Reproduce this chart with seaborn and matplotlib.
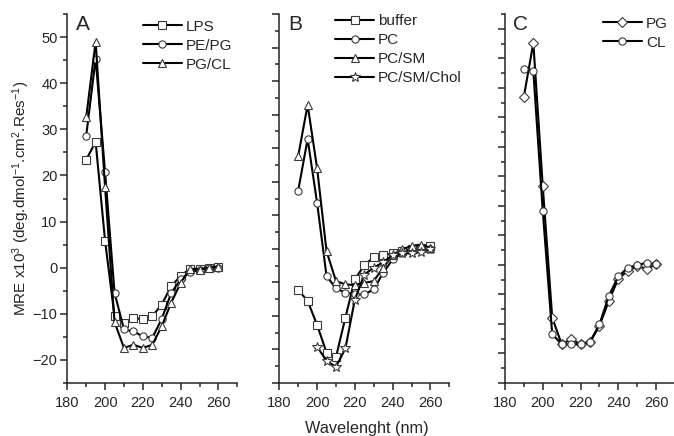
import numpy as np
import pandas as pd
import matplotlib
matplotlib.use("Agg")
import matplotlib.pyplot as plt
import seaborn as sns
from matplotlib.ticker import MultipleLocator, FixedLocator, NullFormatter

# ---------------- data ----------------
wl = [190, 195, 200, 205, 210, 215, 220, 225, 230, 235, 240, 245, 250, 255, 260]
wl_chol = [200, 205, 210, 215, 220, 225, 230, 235, 240, 245, 250, 255, 260]

# Panel A
lps = [23.4, 27.3, 5.8, -10.5, -12.0, -10.9, -11.2, -10.5, -8.0, -4.0, -1.8, -0.2, -0.2, 0.0, 0.1]
pe_pg = [28.6, 45.3, 20.7, -5.4, -13.4, -13.8, -14.9, -15.2, -11.1, -5.5, -2.5, -1.0, -0.5, 0.0, 0.0]
pg_cl = [32.6, 49.0, 17.4, -11.8, -17.4, -16.7, -17.4, -16.7, -12.7, -7.6, -3.3, -0.2, -0.4, 0.0, 0.2]

# Panel B
buffer = [-4.8, -7.2, -12.4, -18.4, -19.4, -10.8, -2.5, 0.5, 2.3, 2.7, 3.1, 3.6, 4.0, 4.3, 4.8]
pc = [16.7, 27.9, 14.1, -1.8, -4.5, -5.4, -5.8, -5.8, -4.7, -1.1, 1.8, 3.1, 3.6, 4.0, 4.1]
pc_sm = [24.2, 35.3, 21.6, 3.6, -2.9, -3.6, -3.8, -3.3, -2.9, 0.0, 2.7, 4.0, 4.7, 5.0, 4.3]
pc_sm_chol = [-17.1, -20.2, -21.5, -17.5, -6.9, -1.5, 0.0, 1.2, 2.7, 3.1, 3.1, 3.4, 4.0]

# Panel C
pg = [37.1, 48.7, 17.7, -10.8, -16.6, -15.5, -16.6, -16.2, -12.6, -7.2, -2.4, -0.7, 0.3, -0.2, 0.7]
cl = [43.1, 42.6, 12.3, -14.4, -16.6, -16.6, -16.6, -16.1, -12.3, -6.1, -1.9, 0.0, 0.5, 1.1, 0.7]

panels = [
    ("A", [("LPS", wl, lps, "s"), ("PE/PG", wl, pe_pg, "o"), ("PG/CL", wl, pg_cl, "^")]),
    ("B", [("buffer", wl, buffer, "s"), ("PC", wl, pc, "o"), ("PC/SM", wl, pc_sm, "^"),
           ("PC/SM/Chol", wl_chol, pc_sm_chol, "*")]),
    ("C", [("PG", wl, pg, "D"), ("CL", wl, cl, "o")]),
]

# ---------------- style ----------------
sns.set_style("ticks")
plt.rcParams["font.family"] = ["Liberation Sans", "DejaVu Sans"]
plt.rcParams["mathtext.fontset"] = "custom"
plt.rcParams["mathtext.rm"] = "Liberation Sans"
plt.rcParams["mathtext.it"] = "Liberation Sans:italic"
plt.rcParams["axes.linewidth"] = 1.1

W, H = 674, 436
fig = plt.figure(figsize=(W / 100, H / 100), dpi=100)

ax_specs = [
    (67.3, 170, (180, 270)),
    (279.3, 170, (180, 270)),
    (505, 169, (180, 269.5)),
]
bottom_px, top_px = 383, 14

legend_pos = [(0.445, 0.985), (0.328, 0.999), (0.58, 0.993)]
yticks_n = [None, 23, 26]
axes = []
for i, ((lab, series), (left, width, xl)) in enumerate(zip(panels, ax_specs)):
    ax = fig.add_axes([left / W, (H - bottom_px) / H, width / W, (bottom_px - top_px) / H])
    axes.append(ax)
    for name, x, y, mk in series:
        ms = 7.0 if mk == "*" else (4.8 if mk == "D" else 5.2)
        df = pd.DataFrame({"wl": x, "v": y})
        sns.lineplot(data=df, x="wl", y="v", ax=ax, color="black", linewidth=1.5,
                     marker=mk, markersize=ms, markerfacecolor="white",
                     markeredgecolor="#3a3a3a", markeredgewidth=0.8, label=name)
    ax.set_xlim(*xl)
    ax.set_ylim(-25, 55)
    ax.xaxis.set_major_locator(MultipleLocator(20))
    ax.xaxis.set_minor_locator(MultipleLocator(10))
    if i == 0:
        ax.yaxis.set_major_locator(MultipleLocator(10))
        ax.yaxis.set_minor_locator(MultipleLocator(5))
    else:
        t = np.linspace(-25, 55, yticks_n[i])
        ax.yaxis.set_major_locator(FixedLocator(t[::2]))
        ax.yaxis.set_minor_locator(FixedLocator(t[1::2]))
        ax.yaxis.set_major_formatter(NullFormatter())
    ax.tick_params(which="major", direction="out", length=5, width=1.1, labelsize=10.5)
    ax.tick_params(axis="x", which="major", pad=4.5)
    ax.tick_params(axis="y", which="major", pad=2)
    ax.tick_params(which="minor", direction="out", length=3, width=1.1)
    sns.despine(ax=ax)
    ax.set_xlabel("")
    ax.set_ylabel("")
    ax.text(0.05, 0.998, lab, transform=ax.transAxes, ha="left", va="top", fontsize=15)
    ax.legend(loc="upper left", bbox_to_anchor=legend_pos[i], frameon=False, fontsize=11,
              handlelength=2.55, handletextpad=0.25, labelspacing=0.33,
              borderpad=0, borderaxespad=0)

fig.text(21.7 / W, 1 - 198 / H, r"MRE x10$^3$ (deg.dmol$^{-1}$.cm$^2$.Res$^{-1}$)",
         rotation=90, ha="center", va="center", fontsize=11)
fig.text(367 / W, 1 - 428.5 / H, "Wavelenght (nm)", ha="center", va="center", fontsize=11.7)

fig.savefig("out.png", dpi=100)
